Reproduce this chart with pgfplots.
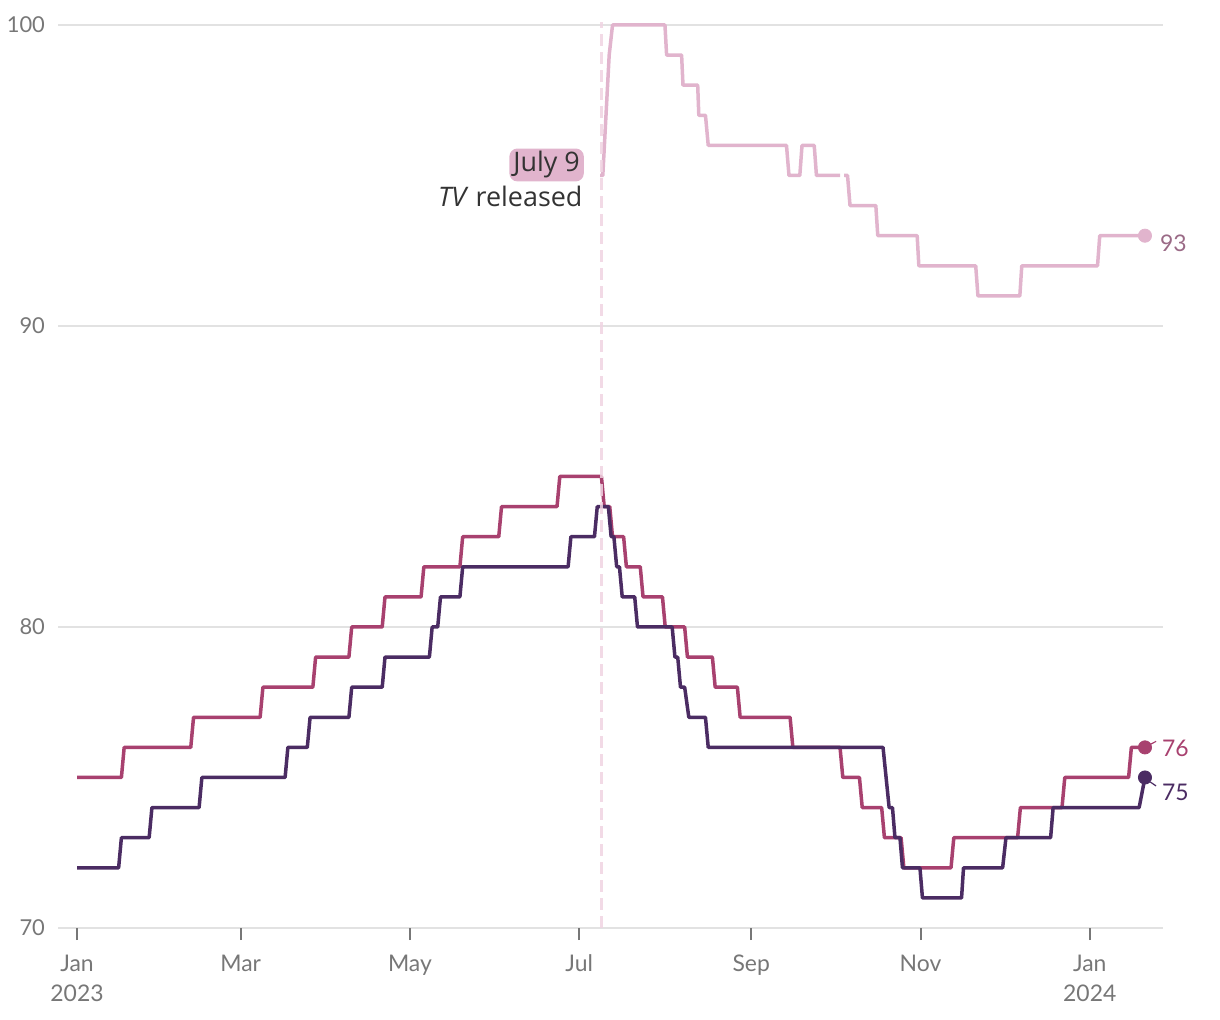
\documentclass[border=0pt]{standalone}
\usepackage{fontspec}
\setmainfont{Lato}
\newfontfamily\annfont{Open Sans}
\usepackage{pgfplots}
\pgfplotsset{compat=1.18}
\definecolor{lightc}{HTML}{E1B4CD}
\definecolor{dashc}{HTML}{F0D4E2}
\definecolor{magc}{HTML}{A8416F}
\definecolor{darkc}{HTML}{4B2C63}
\definecolor{gridc}{HTML}{E2E2E2}
\definecolor{tickc}{HTML}{777777}
\definecolor{lab93}{HTML}{9A6A86}
\begin{document}
\begin{tikzpicture}
\path[use as bounding box] (-29bp,-46bp) rectangle (581bp,464bp);
\begin{axis}[
  scale only axis, width=552.5bp, height=451.5bp,
  xmin=-6.85, xmax=391.4, ymin=70, ymax=100,
  clip=false,
  axis line style={draw=none},
  ytick={70,80,90,100},
  ymajorgrids, grid style={gridc, line width=1bp},
  xtick={0,59,120,181,243,304,365},
  xticklabels={Jan\\2023,Mar,May,Jul,Sep,Nov,Jan\\2024},
  xtick pos=bottom,
  tick align=outside, major tick length=6bp,
  xtick style={tickc, line width=1bp},
  ytick style={draw=none},
  xticklabel style={align=center, font=\fontsize{11.5}{15}\selectfont, text=tickc, yshift=-4bp},
  yticklabel style={font=\fontsize{11}{13}\selectfont, text=tickc, xshift=3bp},
  /pgf/number format/assume math mode=true,
  unbounded coords=jump,
]
\addplot[lightc, line width=1.75bp, line join=round] coordinates {
(188.5,95)(189.5,95)(191.8,99)(193,100)(211.9,100)(212.5,99)(217.9,99)(218.4,98)(223.7,98)(224.1,97)(226.5,97)(227.5,96)(255.7,96)(256.6,95)(260.5,95)(261.3,96)(265.7,96)(266.5,95)(275,95)(276,nan)(276.5,95)(277.7,95)(278.6,94)(287.9,94)(288.6,93)(302.8,93)(303.4,92)(323.9,92)(324.7,91)(339.8,91)(340.5,92)(367.8,92)(368.6,93)(384.9,93)
};
\addplot[magc, line width=1.75bp, line join=round] coordinates {
(0,75)(16,75)(17,76)(41,76)(42,77)(66,77)(67,78)(85,78)(86,79)(98,79)(99,80)(110,80)(111,81)(124,81)(125,82)(138,82)(139,83)(152,83)(153,84)(173,84)(174,85)(189,85)(190,84)(192,84)(193,83)(197,83)(198,82)(203,82)(204,81)(211,81)(212,80)(219,80)(220,79)(229,79)(230,78)(238,78)(239,77)(257,77)(258,76)(275,76)(276,75)(282,75)(283,74)(290,74)(291,73)(297,73)(298,72)(315,72)(316,73)(339,73)(340,74)(355,74)(356,75)(379,75)(380,76)(384.9,76)
};
\addplot[darkc, line width=1.75bp, line join=round] coordinates {
(0,72)(15,72)(16,73)(26,73)(27,74)(44,74)(45,75)(75,75)(76,76)(83,76)(84,77)(98,77)(99,78)(110,78)(111,79)(127,79)(128,80)(130,80)(131,81)(138,81)(139,82)(177,82)(178,83)(186.5,83)(187.5,84)(191.5,84)(192.5,83)(193.5,83)(194.5,82)(195.5,82)(196.5,81)(201,81)(202,80)(214.5,80)(215.5,79)(216.5,79)(217.5,78)(219,78)(220.5,77)(226.5,77)(227.5,76)(290.5,76)(292.7,74)(293.9,74)(294.8,73)(296.6,73)(297.5,72)(303.8,72)(304.7,71)(318.8,71)(319.5,72)(333.6,72)(334.8,73)(350.9,73)(351.8,74)(382.8,74)(384.9,75)
};
\addplot[only marks, mark=*, mark size=3.3bp, lightc] coordinates {(384.9,93)};
\addplot[only marks, mark=*, mark size=3.3bp, magc] coordinates {(384.9,76)};
\addplot[only marks, mark=*, mark size=3.3bp, darkc] coordinates {(384.9,75)};
\draw[dashc, opacity=0.85, line width=1.6bp, dash pattern=on 6bp off 3bp] (axis cs:189,70) -- (axis cs:189,100.1);
\node[anchor=west, text=lab93, font=\fontsize{11.5}{13}\selectfont, inner sep=0pt] at (axis cs:390.2,92.75) {93};
\node[anchor=west, text=magc, font=\fontsize{11.5}{13}\selectfont, inner sep=0pt] at (axis cs:390.9,75.98) {76};
\node[anchor=west, text=darkc, font=\fontsize{11.5}{13}\selectfont, inner sep=0pt] at (axis cs:390.9,74.52) {75};
\draw[magc, line width=0.6bp] (axis cs:386.8,76.1) -- (axis cs:388.9,76.2);
\draw[darkc, line width=0.6bp] (axis cs:386.8,74.85) -- (axis cs:388.9,74.72);
\node[anchor=east, fill=lightc, rounded corners=4bp, inner xsep=2bp, inner ysep=1.5bp, text=black!80, font=\annfont\fontsize{13.5}{16}\selectfont] at (axis cs:182.8,95.35) {July 9};
\node[anchor=east, inner xsep=0pt, inner ysep=1bp, text=black!80, font=\annfont\fontsize{13.5}{16}\selectfont] at (axis cs:182.3,94.29) {\textit{TV} released};
\end{axis}
\end{tikzpicture}
\end{document}
